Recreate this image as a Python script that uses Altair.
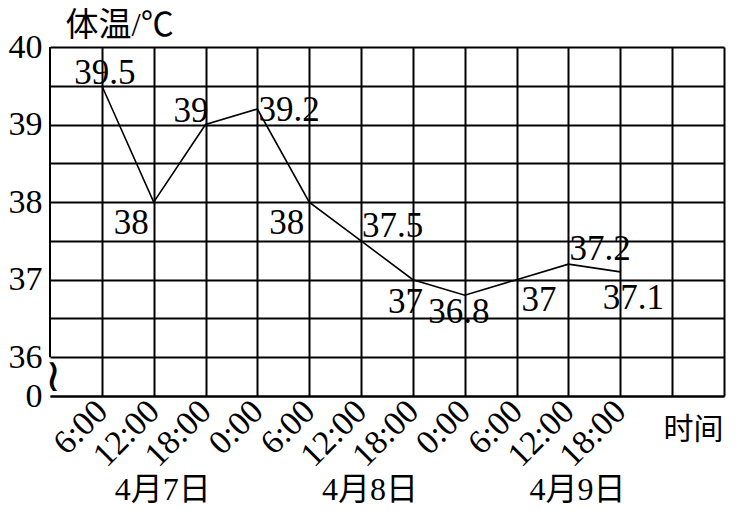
import json
import altair as alt
import pandas as pd

# ---- data ----
times = ["6:00", "12:00", "18:00", "0:00", "6:00", "12:00", "18:00",
         "0:00", "6:00", "12:00", "18:00"]
temps = [39.5, 38, 39, 39.2, 38, 37.5, 37, 36.8, 37, 37.2, 37.1]
label_pos = ["above", "below_left", "above_left", "right", "below_left",
             "above_right", "below_under", "below_near", "below_right",
             "above_right", "below_far"]
days = ["4月7日", "4月8日", "4月9日"]
day_noon_slot = [2, 6, 10]
y_tick_values = [35.5, 36, 36.5, 37, 37.5, 38, 38.5, 39, 39.5, 40]
y_tick_labels = ["0", "36", "", "37", "", "38", "", "39", "", "40"]
n_cols = 13

FONT = "Liberation Serif, Noto Sans CJK SC"

df = pd.DataFrame({
    "slot": list(range(1, len(temps) + 1)),
    "temp": temps,
    "label": [("%g" % t) for t in temps],
    "pos": label_pos,
})
df_days = pd.DataFrame({"slot": day_noon_slot, "day": days})

x_scale = alt.Scale(domain=[0, n_cols], nice=False, zero=False)
y_scale = alt.Scale(domain=[35.5, 40], nice=False, zero=False)

x_label_expr = "datum.value <= %d ? %s[datum.value - 1] : ''" % (
    len(times), json.dumps(times))
y_label_expr = "".join(
    "abs(datum.value - %s) < 0.01 ? '%s' : " % (v, l)
    for v, l in zip(y_tick_values, y_tick_labels)) + "''"

x_axis = alt.Axis(
    values=list(range(1, n_cols + 1)), grid=True, gridColor="black",
    gridWidth=2, gridOpacity=1, ticks=False, domain=True, domainColor="black",
    domainWidth=2, labelExpr=x_label_expr, labelAngle=315, labelAlign="right",
    labelBaseline="middle", labelFont=FONT, labelFontSize=34,
    labelColor="black", labelPadding=10, labelOverlap=False, labelFlush=False,
    labelBound=False,
    title="时间", titleX=643, titleY=33, titleAngle=0, titleAlign="center",
    titleBaseline="middle", titleFont=FONT, titleFontSize=30,
    titleFontWeight="normal", titleColor="black",
)
y_axis = alt.Axis(
    values=y_tick_values, grid=True, gridColor="black", gridWidth=2,
    gridOpacity=1, ticks=False, domain=False, labelExpr=y_label_expr,
    labelFont=FONT, labelFontSize=34, labelColor="black", labelPadding=8,
    labelOverlap=False, labelFlush=False, labelBound=False,
    title="体温/℃", titleAngle=0, titleX=15, titleY=-12, titleAlign="left",
    titleBaseline="alphabetic", titleFont=FONT, titleFontSize=33,
    titleFontWeight="normal", titleColor="black",
)


def X(field):
    return alt.X(field, scale=x_scale, axis=x_axis)


def Y(field):
    return alt.Y(field, scale=y_scale, axis=y_axis)


line = alt.Chart(df).mark_line(color="black", strokeWidth=1.6).encode(
    x=X("slot:Q"), y=Y("temp:Q"),
)

# label placement styles: (align, dy, dx)
placements = {
    "above": ("center", -2, 3),
    "below_left": ("right", 32, -5),
    "below_under": ("right", 33, 10),
    "above_left": ("right", -3, 3),
    "right": ("left", 12, 1),
    "above_right": ("left", -4, 1),
    "below_near": ("center", 28, -6),
    "below_far": ("center", 37, 13),
    "below_right": ("left", 31, 5),
}
label_layers = []
for code, (align, dy, dx) in placements.items():
    label_layers.append(
        alt.Chart(df).transform_filter(alt.datum.pos == code).mark_text(
            align=align, baseline="alphabetic", dx=dx, dy=dy, font=FONT,
            fontSize=35, color="black",
        ).encode(x=X("slot:Q"), y=Y("temp:Q"), text="label:N")
    )

left_edge = alt.Chart(pd.DataFrame({"slot": [0], "temp": [36], "temp2": [40]})).mark_rule(
    color="black", strokeWidth=2
).encode(x=X("slot:Q"), y=Y("temp:Q"), y2="temp2:Q")

axis_break = alt.Chart(pd.DataFrame({"slot": [0], "temp": [35.75]})).mark_text(
    text="≀", font="DejaVu Sans", fontSize=46, color="black",
    align="center", baseline="middle", dx=3,
).encode(x=X("slot:Q"), y=Y("temp:Q"))

day_labels = alt.Chart(df_days).mark_text(
    font=FONT, fontSize=32, color="black", align="center",
    baseline="middle", dx=9,
).encode(x=X("slot:Q"), y=alt.value(443), text="day:N")

chart = alt.layer(line, left_edge, axis_break, *label_layers, day_labels).properties(
    width=674, height=349,
    autosize=alt.AutoSizeParams(type="none"),
    padding={"left": 42, "top": 39, "right": 4, "bottom": 112},
    background="white",
).configure_view(stroke=None)

chart.save("out.html", embed_options={"renderer": "svg", "actions": False})
